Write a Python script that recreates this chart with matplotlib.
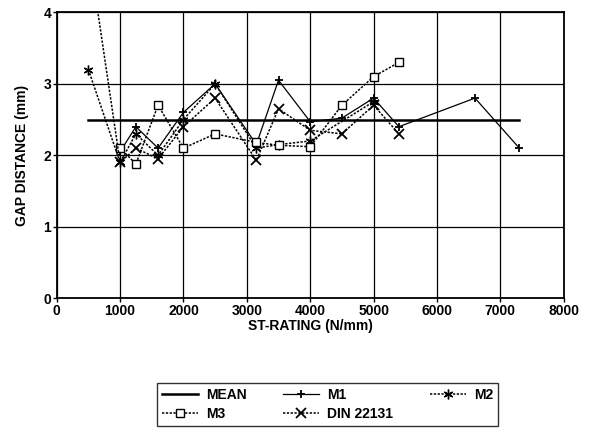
import matplotlib
matplotlib.use("Agg")
import matplotlib.pyplot as plt

plt.rcParams['font.family'] = ['Liberation Sans', 'DejaVu Sans']

mean_x = [500, 7300]
mean_y = [2.5, 2.5]

m1_x = [1000, 1250, 1600, 2000, 2500, 3150, 3500, 4000, 4500, 5000, 5400, 6600, 7300]
m1_y = [2.05, 2.4, 2.1, 2.6, 3.0, 2.15, 3.05, 2.47, 2.52, 2.8, 2.4, 2.8, 2.1]

m2_x = [500, 1000, 1250, 1600, 2000, 2500, 3150, 3500, 4000, 5000]
m2_y = [3.2, 1.9, 2.3, 2.0, 2.5, 3.0, 2.1, 2.15, 2.2, 2.75]

m3_x = [1000, 1250, 1600, 2000, 2500, 3150, 3500, 4000, 4500, 5000, 5400]
m3_y = [2.1, 1.88, 2.7, 2.1, 2.3, 2.18, 2.14, 2.12, 2.7, 3.1, 3.3]

din_x = [500, 1000, 1250, 1600, 2000, 2500, 3150, 3500, 4000, 4500, 5000, 5400]
din_y = [4.9, 1.9, 2.1, 1.95, 2.4, 2.8, 1.93, 2.65, 2.35, 2.3, 2.7, 2.3]

xticks = [0, 1000, 2000, 3000, 4000, 5000, 6000, 7000, 8000]
yticks = [0, 1, 2, 3, 4]

fig = plt.figure(figsize=(5.93, 4.46), dpi=100)
ax = fig.add_axes([0.0956, 0.3312, 0.855, 0.6412])

ax.set_xlim(0, 8000)
ax.set_ylim(0, 4)
ax.set_xticks(xticks)
ax.set_yticks(yticks)
ax.grid(True, color='black', linewidth=0.9)
ax.set_axisbelow(True)
for s in ax.spines.values():
    s.set_linewidth(1.3)
    s.set_color('black')
ax.tick_params(direction='out', length=3, width=1, labelsize=10, pad=1)
for lab in ax.get_xticklabels() + ax.get_yticklabels():
    lab.set_fontweight('bold')

dot = (0, (1.5, 1))
h_mean, = ax.plot(mean_x, mean_y, color='black', linewidth=1.8, label='MEAN')
h_m1, = ax.plot(m1_x, m1_y, color='black', linewidth=0.9, marker='+', markersize=6,
                markeredgewidth=1.3, label='M1')
h_m2, = ax.plot(m2_x, m2_y, color='black', linewidth=1.1, linestyle=dot,
                marker=(6, 2, 0), markersize=7, markeredgewidth=1.0, label='M2')
h_m3, = ax.plot(m3_x, m3_y, color='black', linewidth=1.1, linestyle=dot,
                marker='s', markersize=6, markerfacecolor='white',
                markeredgewidth=1.0, label='M3')
h_din, = ax.plot(din_x, din_y, color='black', linewidth=1.1, linestyle=dot,
                 marker='x', markersize=6.5, markeredgewidth=1.3, label='DIN 22131')

ax.set_xlabel('ST-RATING (N/mm)', fontsize=10, fontweight='bold', labelpad=1)
ax.set_ylabel('GAP DISTANCE (mm)', fontsize=10, fontweight='bold', labelpad=10)

leg = fig.legend(handles=[h_mean, h_m3, h_m1, h_din, h_m2],
                 labels=['MEAN', 'M3', 'M1', 'DIN 22131', 'M2'],
                 ncol=3, loc='upper left', bbox_to_anchor=(157/593, 1-383/446),
                 borderaxespad=0,
                 frameon=True, fancybox=False, edgecolor='black',
                 prop={'size': 10, 'weight': 'bold'}, handlelength=2.6,
                 columnspacing=2.6, borderpad=0.35, labelspacing=0.35,
                 handletextpad=0.6)
leg.get_frame().set_linewidth(1.0)

fig.savefig('out.png', dpi=100)
